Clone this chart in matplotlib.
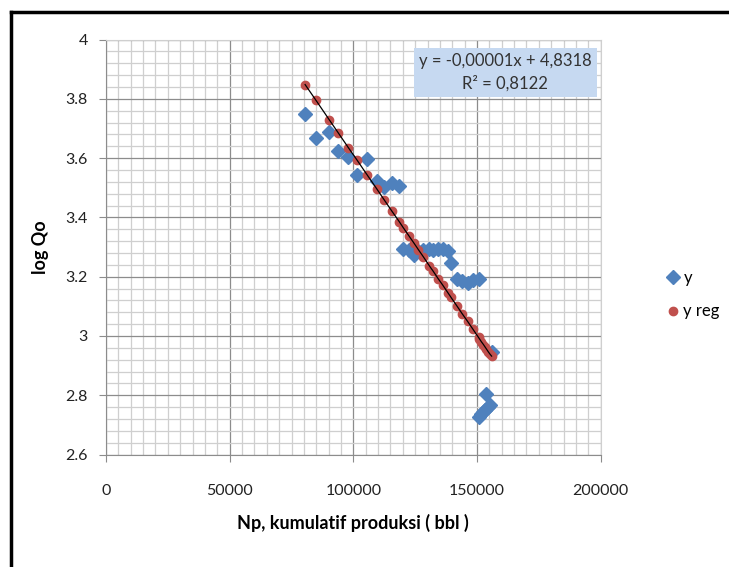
import numpy as np
import matplotlib.pyplot as plt
from matplotlib.lines import Line2D
from matplotlib.ticker import MultipleLocator

plt.rcParams['font.family'] = ['Lato', 'DejaVu Sans']

# Data
np_cum = [80500, 84800, 90200, 93900, 98000, 101600, 105600, 109400, 112400,
          115500, 118600, 120200, 122600, 124600, 126300, 128300, 130700,
          132300, 134300, 136100, 138200, 139500, 141800, 144000, 146200,
          148400, 150600, 151000, 151800, 152600, 153400, 153800, 154600,
          155200, 155900]
log_qo = [3.748, 3.667, 3.689, 3.624, 3.603, 3.542, 3.596, 3.523, 3.504,
          3.515, 3.507, 3.293, 3.290, 3.272, 3.285, 3.290, 3.293,
          3.290, 3.293, 3.293, 3.287, 3.247, 3.192, 3.185, 3.180,
          3.190, 3.192, 2.728, 2.735, 2.742, 2.750, 2.805, 2.760,
          2.768, 2.945]
log_qo_reg = [3.848, 3.796, 3.730, 3.685, 3.635, 3.592, 3.543, 3.497, 3.460,
              3.422, 3.385, 3.365, 3.336, 3.312, 3.291, 3.267, 3.237,
              3.218, 3.193, 3.172, 3.146, 3.130, 3.102, 3.075, 3.049,
              3.022, 2.995, 2.990, 2.980, 2.971, 2.961, 2.956, 2.946,
              2.939, 2.932]

eq_text = 'y = -0,00001x + 4,8318\nR² = 0,8122'

fig = plt.figure(figsize=(7.29, 5.67), dpi=100)
ax = fig.add_axes((0.1454, 0.1984, 0.6786, 0.7319))

ax.plot(np_cum, log_qo, 'D', color='#4f81bd', ms=7.5, mec='#4f81bd',
        label='y', zorder=3)
ax.plot(np_cum, log_qo_reg, 'o', color='#c0504d', ms=6, mec='#c0504d',
        label='y reg', zorder=4)
# trend line through the regression points
order = np.argsort(np_cum)
ax.plot(np.array(np_cum)[order], np.array(log_qo_reg)[order], '-',
        color='black', lw=0.9, zorder=5)

ax.set_xlim(0, 200000)
ax.set_ylim(2.6, 4.0)
ax.xaxis.set_major_locator(MultipleLocator(50000))
ax.xaxis.set_minor_locator(MultipleLocator(5000))
ax.yaxis.set_major_locator(MultipleLocator(0.2))
ax.yaxis.set_minor_locator(MultipleLocator(0.04))
ax.set_yticks([2.6, 2.8, 3.0, 3.2, 3.4, 3.6, 3.8, 4.0])
ax.set_yticklabels(['2.6', '2.8', '3', '3.2', '3.4', '3.6', '3.8', '4'])
ax.set_xticks([0, 50000, 100000, 150000, 200000])
ax.set_xticklabels(['0', '50000', '100000', '150000', '200000'])

ax.grid(which='major', color='#8c8c8c', lw=0.9)
ax.grid(which='minor', color='#cfcfcf', lw=0.9)
ax.set_axisbelow(True)
for side in ['top', 'right']:
    ax.spines[side].set_color('#cfcfcf')
for side in ['left', 'bottom']:
    ax.spines[side].set_color('#8c8c8c')
ax.tick_params(which='major', direction='out', length=5, color='#8c8c8c',
               labelsize=11.5, labelcolor='#222222')
ax.tick_params(which='minor', length=0)
ax.tick_params(axis='x', pad=16)
ax.tick_params(axis='y', pad=8)

ax.set_xlabel('Np, kumulatif produksi ( bbl )', fontsize=13, fontweight='bold',
              labelpad=12)
ax.set_ylabel('log Qo', fontsize=13, fontweight='bold', labelpad=12)

ax.text(0.982, 0.968, eq_text, transform=ax.transAxes, ha='right', va='top',
        fontsize=12, color='#333333', multialignment='center',
        linespacing=1.5, zorder=6,
        bbox=dict(boxstyle='square,pad=0.3', fc='#c6d9f1', ec='none'))

leg = ax.legend(loc='center left', bbox_to_anchor=(1.10, 0.385), frameon=False,
                fontsize=12, handletextpad=0.1, handlelength=1.0,
                labelspacing=1.05)

# black border on the left and top of the picture
fig.add_artist(Line2D([11 / 729, 11 / 729], [0, 1 - 12 / 567], color='black',
                      lw=2.5, transform=fig.transFigure))
fig.add_artist(Line2D([11 / 729, 1], [1 - 12 / 567, 1 - 12 / 567],
                      color='black', lw=2.5, transform=fig.transFigure))

fig.savefig('out.png', dpi=100)
